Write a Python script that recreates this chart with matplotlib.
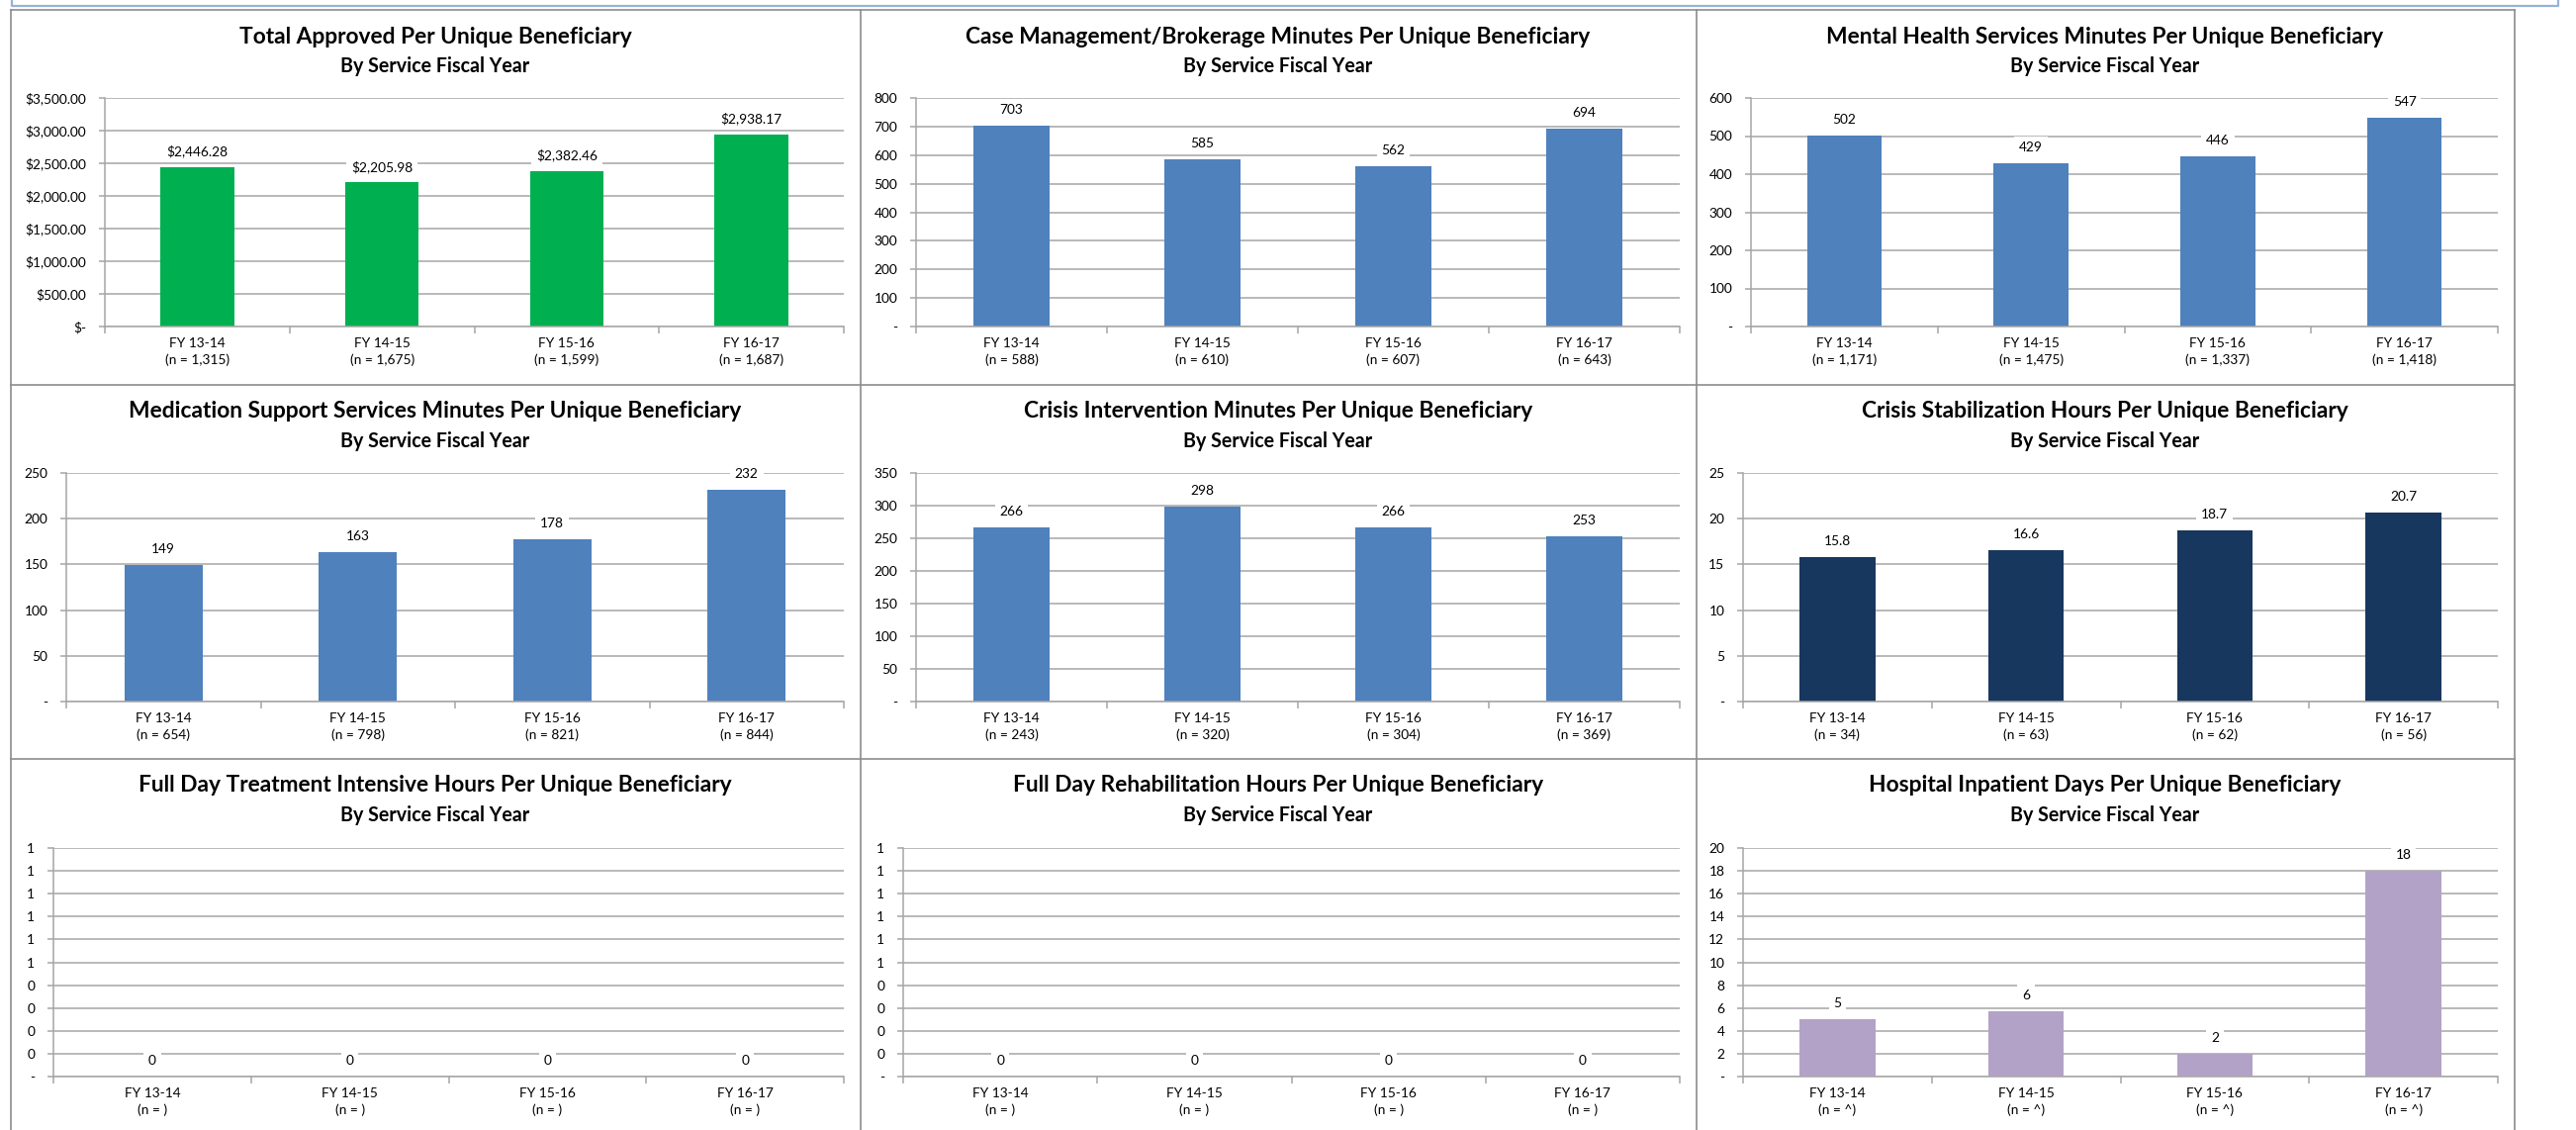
import math
import matplotlib
matplotlib.use('Agg')
import matplotlib.pyplot as plt
from matplotlib.lines import Line2D
from matplotlib.ticker import FixedLocator, FuncFormatter

plt.rcParams['font.family'] = ['Lato', 'DejaVu Sans']

# --- dados ---
years = ['FY 13-14', 'FY 14-15', 'FY 15-16', 'FY 16-17']

total_approved = [2446.28, 2205.98, 2382.46, 2938.17]
total_n = ['1,315', '1,675', '1,599', '1,687']

case_mgmt = [703, 585, 562, 694]
case_n = ['588', '610', '607', '643']

mental_health = [502, 429, 446, 547]
mh_n = ['1,171', '1,475', '1,337', '1,418']

medication = [149, 163, 178, 232]
med_n = ['654', '798', '821', '844']

crisis_int = [266, 298, 266, 253]
ci_n = ['243', '320', '304', '369']

crisis_stab = [15.8, 16.6, 18.7, 20.7]
cs_n = ['34', '63', '62', '56']

fdt_intensive = [0, 0, 0, 0]
fdt_n = ['', '', '', '']

fd_rehab = [0, 0, 0, 0]
fdr_n = ['', '', '', '']

hospital = [5.0, 5.7, 2.0, 18.0]
hosp_n = ['^', '^', '^', '^']

GREEN = '#00B050'
BLUE = '#4F81BD'
NAVY = '#17375E'
PURPLE = '#B3A2C7'
GRID = '#A6A6A6'
BORDER = '#8C8C8C'

W, H = 2604, 1142
fig = plt.figure(figsize=(W / 100, H / 100), dpi=100)
renderer = fig.canvas.get_renderer()


def tamanho_para_largura(texto, largura_px, bold=False):
    # ajusta o tamanho da fonte para o texto ocupar a largura medida na imagem
    t = fig.text(0, 0, texto, fontsize=10, fontweight='bold' if bold else 'normal')
    w = t.get_window_extent(renderer).width
    t.remove()
    return 10 * largura_px / w


FS = (tamanho_para_largura('$3,500.00', 63) +
      tamanho_para_largura('FY 13-14', 54) +
      tamanho_para_largura('(n = 1,315)', 68)) / 3
FS_TIT = tamanho_para_largura('Total Approved Per Unique Beneficiary', 400, bold=True)
FS_SUB = tamanho_para_largura('By Service Fiscal Year', 192, bold=True)


def round_half_up(v, nd=0):
    f = 10 ** nd
    return math.floor(v * f + 0.5 + 1e-9) / f


def fmt_money(v, pos=None):
    if abs(v) < 1e-9:
        return '$-'
    return '${:,.2f}'.format(v)


def fmt_int(v, pos=None):
    if abs(v) < 1e-9:
        return '-'
    return '{:,.0f}'.format(round_half_up(v))


def lab_money(v):
    return '${:,.2f}'.format(v)


def lab_int(v):
    return '{:.0f}'.format(round_half_up(v))


def lab_dec(v):
    return '{:.1f}'.format(round_half_up(v, 1))


# painéis: (titulo, valores, n, cor, ymax, passo, formato eixo, formato rotulo, caixa em px)
paineis = [
    ('Total Approved Per Unique Beneficiary', total_approved, total_n, GREEN, 3500, 500,
     fmt_money, lab_money, (106, 99, 853, 330)),
    ('Case Management/Brokerage Minutes Per Unique Beneficiary', case_mgmt, case_n, BLUE, 800, 100,
     fmt_int, lab_int, (926, 99, 1698, 330)),
    ('Mental Health Services Minutes Per Unique Beneficiary', mental_health, mh_n, BLUE, 600, 100,
     fmt_int, lab_int, (1770, 99, 2525, 330)),
    ('Medication Support Services Minutes Per Unique Beneficiary', medication, med_n, BLUE, 250, 50,
     fmt_int, lab_int, (67, 478, 853, 709)),
    ('Crisis Intervention Minutes Per Unique Beneficiary', crisis_int, ci_n, BLUE, 350, 50,
     fmt_int, lab_int, (926, 478, 1698, 709)),
    ('Crisis Stabilization Hours Per Unique Beneficiary', crisis_stab, cs_n, NAVY, 25, 5,
     fmt_int, lab_dec, (1762, 478, 2525, 709)),
    ('Full Day Treatment Intensive Hours Per Unique Beneficiary', fdt_intensive, fdt_n, BLUE, 1, 0.1,
     fmt_int, lab_int, (54, 857, 853, 1088)),
    ('Full Day Rehabilitation Hours Per Unique Beneficiary', fd_rehab, fdr_n, BLUE, 1, 0.1,
     fmt_int, lab_int, (913, 857, 1698, 1088)),
    ('Hospital Inpatient Days Per Unique Beneficiary', hospital, hosp_n, PURPLE, 20, 2,
     fmt_int, lab_int, (1762, 857, 2525, 1088)),
]

col_centers = [440, 1292, 2128]
row_tops = [10, 389, 767]

for i, (titulo, vals, ns, cor, ymax, passo, yfmt, lfmt, box) in enumerate(paineis):
    x0, y0, x1, y1 = box
    ax = fig.add_axes([x0 / W, 1 - y1 / H, (x1 - x0) / W, (y1 - y0) / H])
    xs = list(range(len(years)))
    ax.bar(xs, vals, width=0.4, color=cor, zorder=2)

    nstep = int(round(ymax / passo))
    yt = [k * passo for k in range(nstep + 1)]
    ax.set_ylim(0, ymax)
    ax.set_yticks(yt)
    ax.yaxis.set_major_formatter(FuncFormatter(yfmt))
    ax.yaxis.grid(True, color=GRID, linewidth=1.1, zorder=0)
    ax.set_axisbelow(True)

    ax.set_xlim(-0.5, len(years) - 0.5)
    ax.xaxis.set_major_locator(FixedLocator([k - 0.5 for k in range(len(years) + 1)]))
    ax.xaxis.set_major_formatter(FuncFormatter(lambda v, p: ''))
    ax.xaxis.set_minor_locator(FixedLocator(xs))
    ax.set_xticklabels(['{}\n(n = {})'.format(y, n) for y, n in zip(years, ns)], minor=True,
                       fontsize=FS, linespacing=1.4)
    ax.tick_params(axis='x', which='major', length=5, width=1.1, color=GRID, direction='out')
    ax.tick_params(axis='x', which='minor', length=0, pad=8)
    ax.tick_params(axis='y', length=4.5, width=1.1, color=GRID, pad=9, labelsize=FS)

    for s in ['top', 'right']:
        ax.spines[s].set_visible(False)
    for s in ['left', 'bottom']:
        ax.spines[s].set_color(GRID)
        ax.spines[s].set_linewidth(1.1)

    for x, v in zip(xs, vals):
        ax.annotate(lfmt(v), (x, v), xytext=(0, 11.5), textcoords='offset points',
                    ha='center', va='center', fontsize=FS, zorder=3,
                    bbox=dict(boxstyle='square,pad=0.35', fc='white', ec='none'))

    cx = col_centers[i % 3]
    top = row_tops[i // 3]
    fig.text(cx / W, 1 - (top + 27) / H, titulo, ha='center', va='center',
             fontsize=FS_TIT, fontweight='bold')
    fig.text(cx / W, 1 - (top + 57) / H, 'By Service Fiscal Year', ha='center', va='center',
             fontsize=FS_SUB, fontweight='bold')

# bordas dos painéis
for xb in [11, 870, 1715, 2542]:
    fig.add_artist(Line2D([xb / W, xb / W], [1 - 10 / H, 0], color=BORDER, linewidth=1.2))
for yb in [10, 389, 767]:
    fig.add_artist(Line2D([11 / W, 2542 / W], [1 - yb / H, 1 - yb / H], color=BORDER, linewidth=1.2))

# caixa azul clara no topo
fig.add_artist(Line2D([12 / W, 12 / W, 2586 / W, 2586 / W], [1, 1 - 6 / H, 1 - 6 / H, 1],
                      color='#95B3D7', linewidth=1.6))

fig.savefig('out.png', dpi=100, facecolor='white')
